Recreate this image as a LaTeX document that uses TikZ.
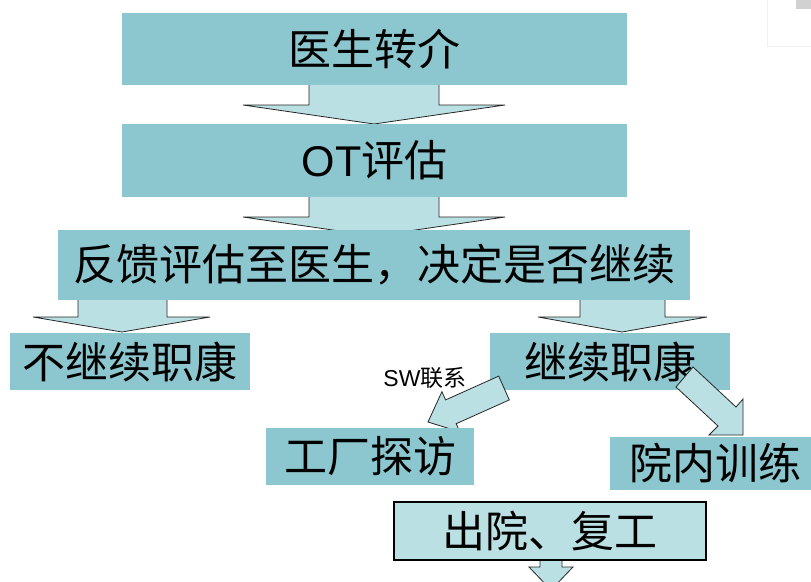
\documentclass[tikz,border=0pt]{standalone}
\usepackage{fontspec}
\setmainfont{Liberation Sans}
\newfontfamily\cjk{Noto Sans CJK SC}
\definecolor{boxteal}{RGB}{140,198,206}
\definecolor{arrowfill}{RGB}{187,224,227}
\begin{document}
\begin{tikzpicture}[x=1pt,y=-1pt,
  box/.style={fill=boxteal, draw=none, inner sep=0pt, font=\cjk\fontsize{43}{43}\selectfont},
  endbox/.style={box, fill=arrowfill, draw=black, line width=1.4pt},
  blockarrow/.style={fill=arrowfill, draw=black!85, line width=0.8pt, line join=miter},
  note/.style={inner sep=0pt, font=\fontsize{23}{23}\selectfont}]
\useasboundingbox (0,0) rectangle (811,581);
% faint artifact top right
\draw[black!6, line width=0.8pt] (767,-2) rectangle (813,46);
\fill[black!18] (796,0) rectangle (811,9);
% vertical block arrows
\draw[blockarrow] (309,84) -- (309,105) -- (243,105) -- (374,124) -- (505,105) -- (439,105) -- (439,84) -- cycle;
\draw[blockarrow] (309,196) -- (309,217) -- (243,217) -- (374,236) -- (505,217) -- (439,217) -- (439,196) -- cycle;
\draw[blockarrow] (78,299) -- (78,317) -- (33,317) -- (122,332) -- (210,317) -- (167,317) -- (167,299) -- cycle;
\draw[blockarrow] (580,299) -- (580,317) -- (538,317) -- (622,332) -- (707,317) -- (665,317) -- (665,299) -- cycle;
\draw[blockarrow] (540,559) -- (540,567) -- (529,567) -- (551,590) -- (573,567) -- (562,567) -- (562,559) -- cycle;
% boxes
\node[box, minimum width=505pt, minimum height=72pt] (b1) at (374.5,49) {医生转介};
\node[box, minimum width=505pt, minimum height=73pt] (b2) at (374.5,160.5) {\fontspec{Liberation Sans}OT\cjk 评估};
\node[box, minimum width=632pt, minimum height=70pt] (b3) at (374,265) {反馈评估至医生，决定是否继续};
\node[box, minimum width=240pt, minimum height=57pt] (b4) at (130,361.5) {\raisebox{-2pt}{不继续职康}};
\node[box, minimum width=240pt, minimum height=57pt] (b5) at (610,361.5) {\raisebox{-5pt}{继续职康}};
% diagonal block arrows
\draw[blockarrow] (498.7,376.1) -- (509.3,399.9) -- (456.2,423.7) -- (459.9,431.9) -- (428,422) -- (441.9,391.7) -- (445.6,399.9) -- cycle;
\draw[blockarrow] (676,387) -- (693,367) -- (736,407) -- (743,399) -- (743,435) -- (709,435) -- (718,426) -- cycle;
\node[note] (sw) at (425,378) {SW\cjk 联系};
\node[box, minimum width=208pt, minimum height=57pt] (b6) at (370,456.5) {\raisebox{-4pt}{工厂探访}};
\node[box, minimum width=210pt, minimum height=53pt] (b7) at (715,463.5) {\raisebox{-3pt}{院内训练}};
\node[endbox, minimum width=312pt, minimum height=58pt] (b8) at (550,531) {\raisebox{-3pt}{出院、复工}};
\end{tikzpicture}
\end{document}
